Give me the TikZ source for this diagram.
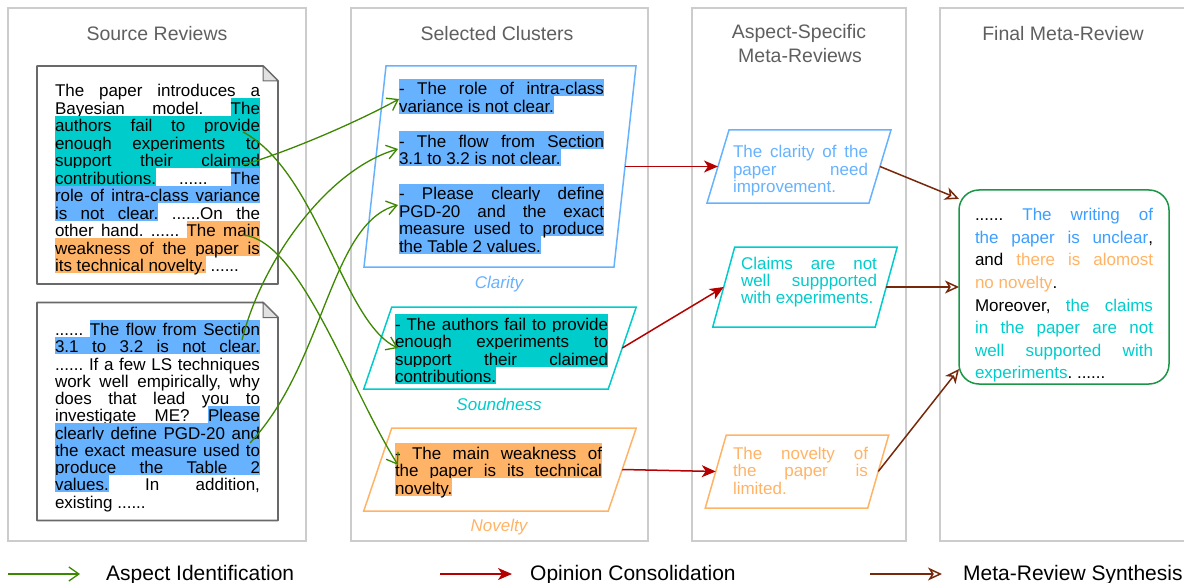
\documentclass[tikz,border=0pt]{standalone}
\usepackage{fontspec}
\setmainfont{Liberation Sans}
\usetikzlibrary{arrows.meta,positioning}

\definecolor{hlteal}{RGB}{0,204,204}
\definecolor{hlblue}{RGB}{102,178,255}
\definecolor{hlorange}{RGB}{255,179,102}
\definecolor{finblue}{RGB}{60,158,255}
\definecolor{panelgray}{RGB}{204,204,204}
\definecolor{titlegray}{RGB}{95,95,95}
\definecolor{docgray}{RGB}{105,105,105}
\definecolor{foldgray}{RGB}{225,225,225}
\definecolor{aspgreen}{RGB}{60,135,0}
\definecolor{conred}{RGB}{180,0,0}
\definecolor{synbrown}{RGB}{120,40,10}
\definecolor{fingreen}{RGB}{25,150,70}

\hyphenpenalty=10000
\exhyphenpenalty=10000
\hbadness=10000
\tolerance=10000
\normallineskiplimit=-100pt
\lineskiplimit=-100pt
\frenchspacing

% highlighted runs: one coloured band per word and per space
\newcommand*{\hlcol}{hlblue}
\newcommand*{\hlbox}[1]{\setbox0=\hbox{#1}\rlap{\textcolor{\hlcol}{\vrule width\wd0 height 16pt depth 1.5pt}}\box0\relax}
\newcommand*{\hlgap}{{\color{\hlcol}\leaders\vrule height 16pt depth 1.5pt\hskip\fontdimen2\font plus\fontdimen3\font minus\fontdimen4\font}}
\def\hlsplit#1 #2\hlstop{\hlbox{#1}\ifx\relax#2\relax\else\hlgap\hlsplit#2\hlstop\fi}
\newcommand*{\hlT}[1]{\leavevmode\def\hlcol{hlteal}\hlsplit#1 \hlstop}
\newcommand*{\hlB}[1]{\leavevmode\def\hlcol{hlblue}\hlsplit#1 \hlstop}
\newcommand*{\hlO}[1]{\leavevmode\def\hlcol{hlorange}\hlsplit#1 \hlstop}
\newcommand*{\bodyfont}[1]{\fontsize{17}{#1}\selectfont\lineskiplimit=-100pt\frenchspacing}

\tikzset{
  panel/.style={draw=panelgray, line width=1.5pt},
  paneltitle/.style={text=titlegray, font=\fontsize{19.5}{23}\selectfont, anchor=base, inner sep=0pt},
  bodytext/.style 2 args={text width=#1, align=justify, inner sep=0pt, outer sep=0pt, anchor=base west,
    font=\bodyfont{#2}},
  bodytext/.default={205pt}{17.5},
  docbox/.style={minimum width=241pt, minimum height=218pt, inner sep=0pt, outer sep=0pt},
  docline/.style={draw=docgray, line width=1.8pt, line join=round},
  clus/.style={inner sep=0pt, outer sep=0pt},
  asplabel/.style={font=\fontsize{17}{20}\selectfont\itshape, anchor=base, inner sep=0pt},
  aspect/.style={draw=aspgreen, line width=1.3pt, -{Straight Barb[length=10pt,width=14pt]}},
  consol/.style={draw=conred, line width=1.5pt, -{Stealth[length=14pt,width=12pt,inset=4pt]}},
  synth/.style={draw=synbrown, line width=1.5pt, -{Stealth[open,length=14pt,width=13pt,inset=4pt]}},
  legend/.style={font=\fontsize{21}{24}\selectfont, anchor=base west, inner sep=0pt},
}

\begin{document}
\begin{tikzpicture}[x=1pt,y=-1pt]
  \useasboundingbox (0,0) rectangle (1184,583);

  % panels
  \draw [panel] (8,8) rectangle (306,541);
  \draw [panel] (351,8) rectangle (648,541);
  \draw [panel] (692,8) rectangle (906,541);
  \draw [panel] (940,8) rectangle (1200,541);
  \node [paneltitle] (srctitle) at (157,41) {Source Reviews};
  \node [paneltitle] (clustitle) at (497,41) {Selected Clusters};
  \node [paneltitle] (asptitlea) at (799,39) {Aspect-Specific};
  \node [paneltitle] (asptitleb) at (800,63) {Meta-Reviews};
  \node [paneltitle] (fintitle) at (1063,41) {Final Meta-Review};

  % source reviews
  \foreach \r/\y in {rev1/175, rev2/411.5} {
    \node [docbox] (\r) at (157.5,\y) {};
    \draw [docline] (\r.south west) -- (\r.north west) -- ([xshift=-15pt]\r.north east)
      -- ([yshift=-15pt]\r.north east) -- (\r.south east) -- cycle;
    \draw [draw=docgray, line width=1pt, fill=foldgray] ([xshift=-15pt]\r.north east)
      -- ([xshift=-15pt,yshift=-15pt]\r.north east) -- ([yshift=-15pt]\r.north east) -- cycle;
  }
  \node [bodytext={205pt}{17.5}] (rev1txt) at (55,96.7) {The paper introduces a\linebreak
    Bayesian model. \hlT{The}\linebreak
    \hlT{authors fail to provide}\linebreak
    \hlT{enough experiments to}\linebreak
    \hlT{support their claimed}\linebreak
    \hlT{contributions.} ...... \hlB{The}\linebreak
    \hlB{role of intra-class variance}\linebreak
    \hlB{is not clear.} ......On the\linebreak
    other hand. ...... \hlO{The main}\linebreak
    \hlO{weakness of the paper is}\linebreak
    \hlO{its technical novelty.} ......};
  \node [bodytext={205pt}{17.25}] (rev2txt) at (55,335.7) {...... \hlB{The flow from Section}\linebreak
    \hlB{3.1 to 3.2 is not clear.}\linebreak
    ...... If a few LS techniques\linebreak
    work well empirically, why\linebreak
    does that lead you to\linebreak
    investigate ME? \hlB{Please}\linebreak
    \hlB{clearly define PGD-20 and}\linebreak
    \hlB{the exact measure used to}\linebreak
    \hlB{produce the Table 2}\linebreak
    \hlB{values.} In addition,\linebreak
    existing ......};

  % selected clusters and aspect-specific meta-reviews (slanted boxes)
  \node [clus, minimum width=250pt, minimum height=201pt] (clar) at (500,166.5) {};
  \node [clus, minimum width=244.5pt, minimum height=82pt] (sound) at (500,348) {};
  \node [clus, minimum width=244.5pt, minimum height=83pt] (novel) at (500,469.5) {};
  \node [clus, minimum width=162pt, minimum height=73pt] (asp1) at (799,166.5) {};
  \node [clus, minimum width=162.5pt, minimum height=80pt] (asp2) at (805,287) {};
  \node [clus, minimum width=162.5pt, minimum height=73pt] (asp3) at (797,471.5) {};
  \foreach \n/\s/\c in {clar/11/hlblue, sound/14/hlteal, novel/14/hlorange,
      asp1/11/hlblue, asp2/11/hlteal, asp3/10.5/hlorange} {
    \draw [draw=\c, line width=1.5pt] ([xshift=\s pt]\n.north west) -- ([xshift=\s pt]\n.north east)
      -- ([xshift=-\s pt]\n.south east) -- ([xshift=-\s pt]\n.south west) -- cycle;
  }

  \node [bodytext={205pt}{17.5}] (clartxt) at (399,95) {\hlB{- The role of intra-class}\linebreak
    \hlB{variance is not clear.}\par\vspace{17.5pt}
    \hlB{- The flow from Section}\linebreak
    \hlB{3.1 to 3.2 is not clear.}\par\vspace{17.5pt}
    \hlB{- Please clearly define}\linebreak
    \hlB{PGD-20 and the exact}\linebreak
    \hlB{measure used to produce}\linebreak
    \hlB{the Table 2 values.}};
  \node [bodytext={213pt}{17.5}] (soundtxt) at (395,330) {\hlT{- The authors fail to provide}\linebreak
    \hlT{enough experiments to}\linebreak
    \hlT{support their claimed}\linebreak
    \hlT{contributions.}};
  \node [bodytext={207pt}{17.5}] (noveltxt) at (395,459) {\hlO{- The main weakness of}\linebreak
    \hlO{the paper is its technical}\linebreak
    \hlO{novelty.}};
  \node [asplabel, text=hlblue] (clarlab) at (499,288) {Clarity};
  \node [asplabel, text=hlteal] (soundlab) at (499,410) {Soundness};
  \node [asplabel, text=hlorange] (novellab) at (499,531) {Novelty};

  \node [bodytext={135pt}{17.5}, text=hlblue] (asp1txt) at (733,158) {The clarity of the\linebreak
    paper need\linebreak improvement.};
  \node [bodytext={136pt}{17.5}, text=hlteal] (asp2txt) at (741,269) {Claims are not\linebreak
    well suppported\linebreak with experiments.};
  \node [bodytext={135pt}{17.5}, text=hlorange] (asp3txt) at (733,459) {The novelty of\linebreak
    the paper is\linebreak limited.};

  % final meta-review
  \node [draw=fingreen, line width=1.5pt, rounded corners=20pt, minimum width=210pt,
    minimum height=194pt, inner sep=0pt, outer sep=0pt] (final) at (1064,287) {};
  \node [bodytext={178pt}{22.6}] (finaltxt) at (975,220.7) {......
    \textcolor{finblue}{The writing of\linebreak the paper is unclear},\linebreak
    and \textcolor{hlorange}{there is alomost\linebreak no novelty}.\newline
    Moreover, \textcolor{hlteal}{the claims\linebreak in the paper are not\linebreak
    well supported with\linebreak experiments}. ......};

  % aspect identification
  \coordinate (provide) at (243,132);
  \coordinate (claimed) at (243,165);
  \coordinate (mainwk) at (243,235);
  \coordinate (notclear) at (242,340);
  \coordinate (usedto) at (250,443);
  \coordinate (clA) at (399,99);
  \coordinate (clB) at (398,149);
  \coordinate (clC) at (398,205);
  \coordinate (soIn) at (398,348);
  \coordinate (noIn) at (398,465);
  \draw [aspect] (provide) .. controls +(75,40) and +(-55,-25) .. (soIn);
  \draw [aspect] (mainwk) .. controls +(57,5) and +(-50,-80) .. (noIn);
  \draw [aspect] (claimed) .. controls +(50,-15) and +(-40,22) .. (clA);
  \draw [aspect] (notclear) .. controls +(20,-80) and +(-70,20) .. (clB);
  \draw [aspect] (usedto) .. controls +(75,-80) and +(-68,18) .. (clC);

  % opinion consolidation
  \draw [consol] (clar.east) -- (asp1.west);
  \draw [consol] (sound.east) -- (asp2.west);
  \draw [consol] (novel.east) -- (asp3.west);

  % meta-review synthesis
  \draw [synth] (asp1.east) -- (final.140);
  \draw [synth] (asp2.east) -- (final.west);
  \draw [synth] (asp3.east) -- (final.218);

  % legend
  \coordinate (legAs) at (8,574);
  \coordinate (legAe) at (80,574);
  \coordinate (legCs) at (440,574);
  \coordinate (legCe) at (512,574);
  \coordinate (legSs) at (870,574);
  \coordinate (legSe) at (942,574);
  \draw [aspect] (legAs) -- (legAe);
  \draw [consol] (legCs) -- (legCe);
  \draw [synth] (legSs) -- (legSe);
  \node [legend] (legA) at (106,580.5) {Aspect Identification};
  \node [legend] (legC) at (530,580.5) {Opinion Consolidation};
  \node [legend] (legS) at (963,580.5) {Meta-Review Synthesis};
\end{tikzpicture}
\end{document}
